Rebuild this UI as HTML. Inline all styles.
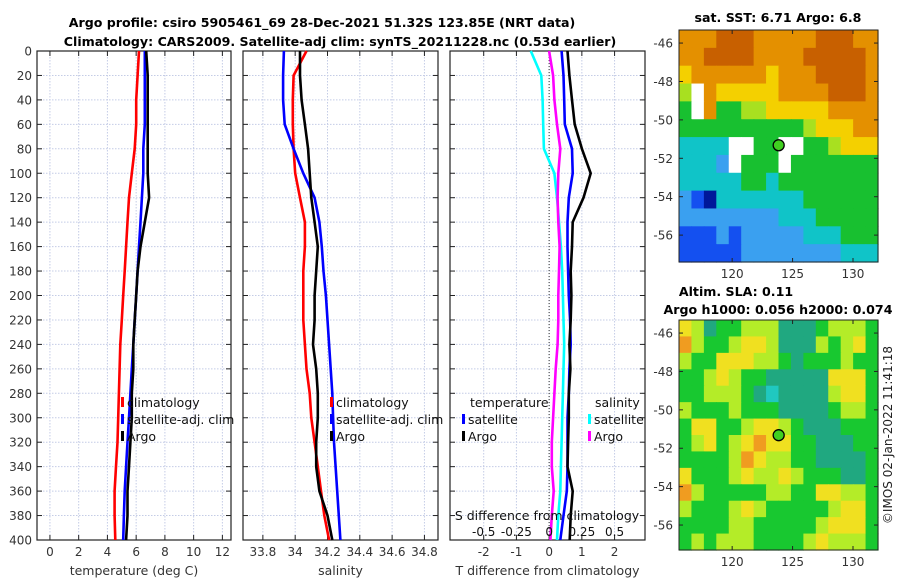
<!DOCTYPE html>
<html><head><meta charset="utf-8">
<style>
body{margin:0;background:#fff;}
svg{display:block;font-family:"DejaVu Sans","Liberation Sans",sans-serif;}
</style></head>
<body>
<svg id="fig" width="900" height="580" viewBox="0 0 900 580">
<text x="322" y="27" text-anchor="middle" font-size="12.6" font-weight="bold">Argo profile: csiro 5905461_69 28-Dec-2021 51.32S 123.85E (NRT data)</text>
<text x="340" y="46" text-anchor="middle" font-size="12.6" font-weight="bold">Climatology: CARS2009. Satellite-adj clim: synTS_20211228.nc (0.53d earlier)</text>
<text x="778" y="22" text-anchor="middle" font-size="12.6" font-weight="bold">sat. SST: 6.71 Argo: 6.8</text>
<text x="736" y="296" text-anchor="middle" font-size="12.6" font-weight="bold">Altim. SLA: 0.11</text>
<text x="778" y="314" text-anchor="middle" font-size="12.6" font-weight="bold">Argo h1000: 0.056 h2000: 0.074</text>
<text transform="translate(892,435) rotate(-90)" text-anchor="middle" font-size="12" fill="#222">©IMOS 02-Jan-2022 11:41:18</text>
<g id="plots"></g>
</svg>
<script>
// ---- data ----
const depths = [0,20,40,60,80,100,120,140,160,180,200,220,240,260,280,300,320,340,360,380,400];
const tempArgo = [6.7,6.8,6.8,6.8,6.8,6.8,6.9,6.6,6.3,6.1,6.0,5.9,5.8,5.8,5.7,5.7,5.6,5.5,5.4,5.4,5.3];
const tempSat = [6.6,6.6,6.6,6.6,6.5,6.5,6.4,6.3,6.2,6.1,6.0,5.9,5.8,5.7,5.6,5.5,5.4,5.3,5.2,5.15,5.1];
const tempClim = [6.2,6.1,6.0,6.0,5.9,5.7,5.5,5.4,5.3,5.2,5.1,5.0,4.9,4.85,4.8,4.75,4.7,4.6,4.5,4.5,4.55];
const salArgo = [34.03,34.03,34.04,34.06,34.08,34.09,34.1,34.12,34.14,34.13,34.12,34.12,34.11,34.13,34.14,34.14,34.13,34.13,34.15,34.2,34.23];
const salSat = [33.93,33.925,33.925,33.935,33.99,34.05,34.12,34.15,34.165,34.175,34.19,34.2,34.21,34.22,34.23,34.235,34.24,34.25,34.26,34.27,34.28];
const salClim = [34.07,33.99,33.985,33.985,33.99,34.0,34.03,34.06,34.06,34.05,34.05,34.05,34.06,34.07,34.09,34.1,34.12,34.14,34.16,34.18,34.21];
const tdiffArgo = [0.56,0.62,0.7,0.78,1.0,1.27,1.05,0.72,0.7,0.66,0.68,0.66,0.62,0.65,0.6,0.6,0.58,0.56,0.72,0.66,0.63];
const tdiffSat = [0.38,0.44,0.46,0.48,0.7,0.72,0.6,0.56,0.56,0.58,0.6,0.64,0.66,0.62,0.6,0.56,0.56,0.56,0.54,0.44,0.34];
const sdiffSat = [-0.14,-0.06,-0.05,-0.045,-0.04,0.04,0.06,0.075,0.09,0.1,0.105,0.11,0.115,0.11,0.105,0.1,0.095,0.09,0.085,0.07,0.06];
const sdiffArgo = [0.0,0.03,0.04,0.06,0.085,0.07,0.065,0.07,0.08,0.075,0.07,0.07,0.065,0.05,0.04,0.03,0.02,0.02,0.035,0.02,0.01];
const depthTicks = [0,20,40,60,80,100,120,140,160,180,200,220,240,260,280,300,320,340,360,380,400];
const tempTicks = [0,2,4,6,8,10,12];
const salTicks = [33.8,34,34.2,34.4,34.6,34.8];
const tdiffTicks = [-2,-1,0,1,2];
const sdiffTickLabels = ["-0.5","-0.25","0","0.25","0.5"];
const sdiffTicks = [-0.5,-0.25,0,0.25,0.5];
const sstGrid = [
"8889998888899988",
"8899998888999998",
"7888888788899998",
"6W87777788889998",
"5W85566777778888",
"5555555555677788",
"3333WW55WW556777",
"3332W555W5555555",
"3333355355555555",
"2103333333555555",
"2222222233355555",
"1112122222333555",
"1111122222222333"];
const slaGrid = [
"7645566644456665",
"8655677644465675",
"6557776654555655",
"5567655444447775",
"5566654344446775",
"6555655544445665",
"5775567765444555",
"5675678775544455",
"5555687665544445",
"7555676676555445",
"8655555665577665",
"6555676555556775",
"5555665555567775",
"5656665555676665"];
const argoLon = 123.85, argoLat = -51.32;
const mapLonTicks = [120,125,130];
const mapLatTicks = [-46,-48,-50,-52,-54,-56];

// ---- helpers ----
const NS="http://www.w3.org/2000/svg";
const root=document.getElementById('plots');
function mk(tag,attrs,parent){const e=document.createElementNS(NS,tag);for(const k in attrs)e.setAttribute(k,attrs[k]);(parent||root).appendChild(e);return e;}
const Y0=51,Y1=540;
const yD=d=>Y0+d/400*(Y1-Y0);
function panel(name,x0,x1,dmin,dmax,ticks,labels,xlabel,showY){
  const xs=v=>x0+(v-dmin)/(dmax-dmin)*(x1-x0);
  const g=mk('g',{});
  
  
  depthTicks.forEach(d=>{mk('line',{x1:x0,x2:x1,y1:yD(d),y2:yD(d),stroke:'#c4cce6','stroke-width':1,'stroke-dasharray':'1.5 1.5'},g);
    mk('line',{x1:x0,x2:x0+5,y1:yD(d),y2:yD(d),stroke:'#222'},g);mk('line',{x1:x1-5,x2:x1,y1:yD(d),y2:yD(d),stroke:'#222'},g);
    if(showY){const t=mk('text',{x:x0-5,y:yD(d)+4.5,'text-anchor':'end','font-size':12,fill:'#333'},g);t.textContent=d;}});
  ticks.forEach((v,i)=>{const x=xs(v);
    mk('line',{x1:x,x2:x,y1:Y0,y2:Y1,stroke:'#c4cce6','stroke-width':1,'stroke-dasharray':'1.5 1.5'},g);
    mk('line',{x1:x,x2:x,y1:Y1-5,y2:Y1,stroke:'#222'},g);mk('line',{x1:x,x2:x,y1:Y0,y2:Y0+5,stroke:'#222'},g);
    const t=mk('text',{x:x,y:Y1+16,'text-anchor':'middle','font-size':12,fill:'#333'},g);t.textContent=labels[i];});
  mk('rect',{x:x0,y:Y0,width:x1-x0,height:Y1-Y0,fill:'none',stroke:'#222','stroke-width':1.2},g);
  const xl=mk('text',{x:(x0+x1)/2,y:Y1+35,'text-anchor':'middle','font-size':12.5,fill:'#333'},g);xl.textContent=xlabel;
  return {g,xs};
}
function series(p,vals,color,name,sx){
  const pts=vals.map((v,i)=>(sx?sx(v):p.xs(v)).toFixed(1)+','+yD(depths[i]).toFixed(1)).join(' ');
  const l=mk('polyline',{points:pts,fill:'none',stroke:color,'stroke-width':2.6,'stroke-linejoin':'round'},p.g);
  
  
}
function legend(p,x,y,color,label,name){
  const g=mk('g',{},p.g);
  
  
  mk('rect',{x:x,y:y-10,width:3,height:10,fill:color},g);
  const t=mk('text',{x:x+6,y:y,'font-size':12.5,fill:'#111'},g);t.textContent=label;
}
// panel 1
const p1=panel('temperature-panel',37,231,-0.9,12.6,tempTicks,tempTicks.map(String),'temperature (deg C)',true);
series(p1,tempClim,'#f00','temp-climatology-line');
series(p1,tempSat,'#00f','temp-satellite-line');
series(p1,tempArgo,'#000','temp-argo-line');
legend(p1,121,407,'#f00','climatology','legend-climatology');
legend(p1,121,424,'#00f','satellite-adj. clim','legend-satellite');
legend(p1,121,441,'#000','Argo','legend-argo');
// panel 2
const p2=panel('salinity-panel',243,438,33.677,34.884,salTicks,salTicks.map(String),'salinity',false);
series(p2,salClim,'#f00','sal-climatology-line');
series(p2,salSat,'#00f','sal-satellite-line');
series(p2,salArgo,'#000','sal-argo-line');
legend(p2,330,407,'#f00','climatology','legend-sal-climatology');
legend(p2,330,424,'#00f','satellite-adj. clim','legend-sal-satellite');
legend(p2,330,441,'#000','Argo','legend-sal-argo');
// panel 3
const p3=panel('difference-panel',450,645,-3.03,2.93,tdiffTicks,tdiffTicks.map(String),'T difference from climatology',false);
const sx=v=>p3.xs(v*4);
const zl=mk('line',{x1:p3.xs(0),x2:p3.xs(0),y1:Y0,y2:Y1,stroke:'#333','stroke-dasharray':'1 2'},p3.g);


series(p3,sdiffSat,'#0ff','sdiff-satellite-line',sx);
series(p3,sdiffArgo,'#f0f','sdiff-argo-line',sx);
series(p3,tdiffSat,'#00f','tdiff-satellite-line');
series(p3,tdiffArgo,'#000','tdiff-argo-line');
const tt=mk('text',{x:470,y:407,'font-size':12.5,fill:'#111'},p3.g);tt.textContent='temperature';
const st=mk('text',{x:595,y:407,'font-size':12.5,fill:'#111'},p3.g);st.textContent='salinity';
legend(p3,462,424,'#00f','satellite','legend-t-satellite');
legend(p3,462,441,'#000','Argo','legend-t-argo');
legend(p3,588,424,'#0ff','satellite','legend-s-satellite');
legend(p3,588,441,'#f0f','Argo','legend-s-argo');
const sl=mk('text',{x:547,y:520,'text-anchor':'middle','font-size':12.5,fill:'#111'},p3.g);sl.textContent='S difference from climatology';
sdiffTicks.forEach((v,i)=>{const t=mk('text',{x:sx(v),y:536,'text-anchor':'middle','font-size':12,fill:'#111'},p3.g);t.textContent=sdiffTickLabels[i];});

// maps
const sstColors={'0':'#00189a','1':'#1450f0','2':'#3aa0f0','3':'#10c4c8','4':'#18b888','5':'#18c030','6':'#a8e020','7':'#f4d000','8':'#e49000','9':'#c86000','W':'#ffffff'};
const slaColors={'3':'#20c8c0','4':'#20a880','5':'#18c830','6':'#b4ec28','7':'#f0e020','8':'#f09c20'};
function map(name,x0,y0,x1,y1,grid,colors,lonMin,lonMax,latTop,latBot){
  const g=mk('g',{});
  
  
  const rows=grid.length,cols=grid[0].length,cw=(x1-x0)/cols,ch=(y1-y0)/rows;
  grid.forEach((row,r)=>{[...row].forEach((c,k)=>{
    mk('rect',{x:(x0+k*cw).toFixed(2),y:(y0+r*ch).toFixed(2),width:(cw+0.6).toFixed(2),height:(ch+0.6).toFixed(2),fill:colors[c]},g);
  });});
  const xl=v=>x0+(v-lonMin)/(lonMax-lonMin)*(x1-x0), yl=v=>y0+(v-latTop)/(latBot-latTop)*(y1-y0);
  mk('rect',{x:x0,y:y0,width:x1-x0,height:y1-y0,fill:'none',stroke:'#222','stroke-width':1},g);
  mapLonTicks.forEach(v=>{mk('line',{x1:xl(v),x2:xl(v),y1:y1-4,y2:y1,stroke:'#222'},g);mk('line',{x1:xl(v),x2:xl(v),y1:y0,y2:y0+4,stroke:'#222'},g);
    const t=mk('text',{x:xl(v),y:y1+16,'text-anchor':'middle','font-size':12,fill:'#333'},g);t.textContent=v;});
  mapLatTicks.forEach(v=>{mk('line',{x1:x0,x2:x0+4,y1:yl(v),y2:yl(v),stroke:'#222'},g);mk('line',{x1:x1-4,x2:x1,y1:yl(v),y2:yl(v),stroke:'#222'},g);
    const t=mk('text',{x:x0-6,y:yl(v)+4.5,'text-anchor':'end','font-size':12,fill:'#333'},g);t.textContent=v;});
  const m=mk('circle',{cx:xl(argoLon),cy:yl(argoLat),r:5.5,fill:'#40d020',stroke:'#000','stroke-width':1.3},g);
  
  
}
map('sst-map',679,30,878,262,sstGrid,sstColors,115.6,132.07,-45.32,-57.4);
map('sla-map',679,320,878,550,slaGrid,slaColors,115.6,132.07,-45.32,-57.3);
</script>
</body></html>
